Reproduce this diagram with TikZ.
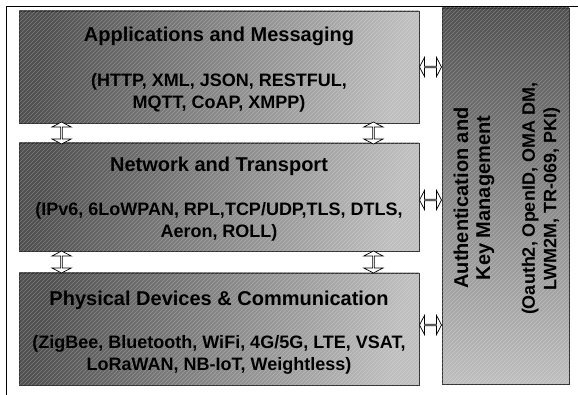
\documentclass[tikz,border=0pt]{standalone}
\usepackage{fontspec}
\setmainfont{Liberation Sans}
\usetikzlibrary{positioning,calc,shapes.arrows}

\definecolor{layerdark}{RGB}{80,80,80}
\definecolor{layerlight}{RGB}{190,190,190}
\tikzset{
    layer/.style={draw=black!80, line width=0.8pt, minimum width=400pt, inner sep=0pt,
        left color=layerdark, right color=layerlight, shading angle=80},
    sidebar/.style={draw=black!80, line width=0.8pt, minimum width=127pt, minimum height=376pt, inner sep=0pt,
        top color=layerdark, bottom color=layerlight},
    hatchline/.style={draw=white, line width=0.6pt, opacity=0.25},
    title/.style={font=\fontsize{20}{22}\selectfont\bfseries, inner sep=0pt, align=center},
    detail/.style={font=\fontsize{18}{21.5}\selectfont\bfseries, inner sep=0pt, align=center},
    link/.style={double arrow, draw=black, line width=0.7pt, fill=white, inner sep=0pt,
        minimum height=22pt, minimum width=19pt, double arrow head extend=4pt,
        double arrow tip angle=125, sloped}
}
% diagonal hatching over a box
\newcommand{\hatchnode}[1]{%
    \begin{scope}
        \clip (#1.south west) rectangle (#1.north east);
        \foreach \k in {0,4,...,980}
            \draw[hatchline] ($(#1.south west)+(\k-400,0)$) -- ++(400,-400);
    \end{scope}}

\begin{document}
\begin{tikzpicture}[x=1pt, y=-1pt]
        \useasboundingbox (0,0) rectangle (578,395);
        \draw[line width=1pt] (6,395) -- (6,7) -- (578,7);

        % layers
        \node[layer, minimum height=112pt] (app) at (219,67) {};
        \node[layer, minimum height=108pt] (net) at (219,197) {};
        \node[layer, minimum height=112pt] (phys) at (219,329) {};
        \node[sidebar] (auth) at (505.5,196) {};
        \hatchnode{app}
        \hatchnode{net}
        \hatchnode{phys}
        \hatchnode{auth}

        \node[title, anchor=base] (apptitle) at ([yshift=-31pt]app.north) {Applications and Messaging};
        \node[detail, anchor=north] (appdetail) at ([yshift=-63pt]app.north) {(HTTP, XML, JSON, RESTFUL,\\MQTT, CoAP, XMPP)};
        \node[title, anchor=base] (nettitle) at ([yshift=-29pt]net.north) {Network and Transport};
        \node[detail, anchor=north] (netdetail) at ([yshift=-60pt]net.north) {(IPv6, 6LoWPAN, RPL,TCP/UDP,TLS, DTLS,\\Aeron, ROLL)};
        \node[title, anchor=base] (phystitle) at ([yshift=-33pt]phys.north) {Physical Devices \& Communication};
        \node[detail, anchor=north] (physdetail) at ([yshift=-63pt]phys.north) {(ZigBee, Bluetooth, WiFi, 4G/5G, LTE, VSAT,\\LoRaWAN, NB-IoT, Weightless)};

        \node[title, rotate=90] (authtitle) at (474,198) {Authentication and\\Key Management};
        \node[detail, rotate=90] (authdetail) at (541,199) {(Oauth2, OpenID, OMA DM,\\LWM2M, TR-069, PKI)};

        % links between layers
        \path ([xshift=43pt]app.south west) -- node[link] (appnetl) {} ([xshift=43pt]net.north west);
        \path ([xshift=-46pt]app.south east) -- node[link] (appnetr) {} ([xshift=-46pt]net.north east);
        \path ([xshift=43pt]net.south west) -- node[link] (netphysl) {} ([xshift=43pt]phys.north west);
        \path ([xshift=-46pt]net.south east) -- node[link] (netphysr) {} ([xshift=-46pt]phys.north east);
        \path (app.east) -- node[link] (appauth) {} (app.east -| auth.west);
        \path ([yshift=-3pt]net.east) -- node[link] (netauth) {} ([yshift=-3pt]net.east -| auth.west);
        \path ([yshift=4pt]phys.east) -- node[link] (physauth) {} ([yshift=4pt]phys.east -| auth.west);
    \end{tikzpicture}
\end{document}
